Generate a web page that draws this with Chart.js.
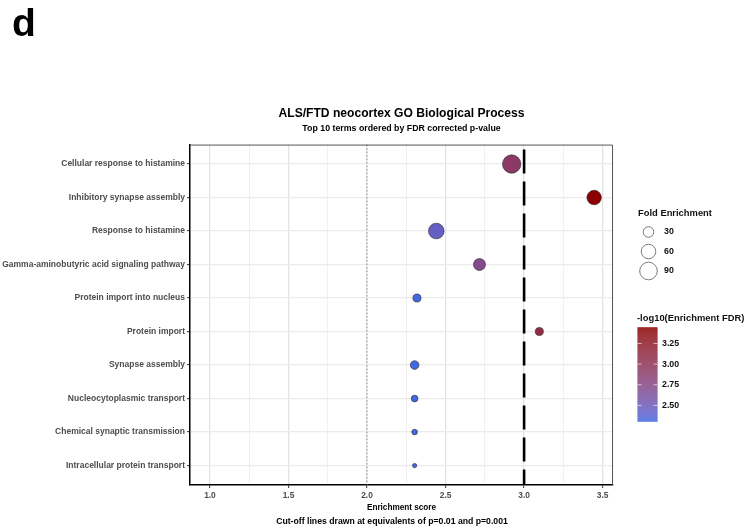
<!DOCTYPE html>
<html>
<head>
<meta charset="utf-8">
<script src="https://cdn.jsdelivr.net/npm/chart.js@4/dist/chart.umd.min.js"></script>
<style>
  body { margin: 0; background: #fff; }
  canvas { display: block; }
</style>
</head>
<body>
<canvas id="goChart" width="748" height="531"></canvas>
<script>
// GO terms, top to bottom
const terms = [
  'Cellular response to histamine',
  'Inhibitory synapse assembly',
  'Response to histamine',
  'Gamma-aminobutyric acid signaling pathway',
  'Protein import into nucleus',
  'Protein import',
  'Synapse assembly',
  'Nucleocytoplasmic transport',
  'Chemical synaptic transmission',
  'Intracellular protein transport'
]
const enrichmentScore = [2.921, 3.446, 2.441, 2.716, 2.318, 3.097, 2.303, 2.303, 2.303, 2.303]
const foldEnrichment = [98, 60, 70, 40, 16, 16, 19, 10, 6, 2]
const log10Fdr = [2.921, 3.446, 2.441, 2.716, 2.318, 3.097, 2.303, 2.303, 2.303, 2.303]

const xTickLabels = ['1.0', '1.5', '2.0', '2.5', '3.0', '3.5']
const cutoffs = [2.0, 3.0]          // p=0.01 and p=0.001
const sizeBreaks = [30, 60, 90]
const colourBreaks = [2.5, 2.75, 3.0, 3.25]

const font = '"Liberation Sans", Arial, Helvetica, sans-serif'

// size scale (area ~ value)
const radius = v => Math.sqrt(3 + 0.83 * v)

// colour scale: royalblue -> darkred, interpolated in Lab like ggplot
const lowColour = [65, 105, 225]
const highColour = [139, 0, 0]
const fdrMin = Math.min(...log10Fdr)
const fdrMax = Math.max(...log10Fdr)

function toLab(rgb) {
  let [r, g, b] = rgb.map(c => {
    c /= 255
    return c <= 0.04045 ? c / 12.92 : Math.pow((c + 0.055) / 1.055, 2.4)
  })
  let x = (r * 0.4124 + g * 0.3576 + b * 0.1805) / 0.95047
  let y = (r * 0.2126 + g * 0.7152 + b * 0.0722)
  let z = (r * 0.0193 + g * 0.1192 + b * 0.9505) / 1.08883
  const f = t => t > 0.008856 ? Math.cbrt(t) : 7.787 * t + 16 / 116
  x = f(x); y = f(y); z = f(z)
  return [116 * y - 16, 500 * (x - y), 200 * (y - z)]
}
function fromLab(lab) {
  let y = (lab[0] + 16) / 116
  let x = lab[1] / 500 + y
  let z = y - lab[2] / 200
  const f = t => t * t * t > 0.008856 ? t * t * t : (t - 16 / 116) / 7.787
  x = f(x) * 0.95047; y = f(y); z = f(z) * 1.08883
  let r = x * 3.2406 + y * -1.5372 + z * -0.4986
  let g = x * -0.9689 + y * 1.8758 + z * 0.0415
  let b = x * 0.0557 + y * -0.2040 + z * 1.0570
  return [r, g, b].map(c => {
    c = c > 0.0031308 ? 1.055 * Math.pow(c, 1 / 2.4) - 0.055 : 12.92 * c
    return Math.round(Math.max(0, Math.min(1, c)) * 255)
  })
}
const lowLab = toLab(lowColour)
const highLab = toLab(highColour)
function colourFor(v) {
  const t = Math.max(0, Math.min(1, (v - fdrMin) / (fdrMax - fdrMin)))
  const c = fromLab(lowLab.map((l, i) => l + (highLab[i] - l) * t))
  return `rgb(${c[0]},${c[1]},${c[2]})`
}

const points = terms.map((t, i) => ({ x: enrichmentScore[i], y: i + 1, r: radius(foldEnrichment[i]) }))
const majorTicks = xTickLabels.map(Number)
const isMajor = v => majorTicks.some(m => Math.abs(m - v) < 1e-6)

// extras: cut-off lines, panel border, legends, caption, panel letter
const extras = {
  id: 'extras',
  beforeDatasetsDraw(chart) {
    const { ctx, chartArea: a, scales: { x } } = chart
    ctx.save()
    // dotted line at p=0.01
    ctx.strokeStyle = '#777'
    ctx.lineWidth = 0.8
    ctx.setLineDash([1.5, 2])
    let px = x.getPixelForValue(cutoffs[0])
    ctx.beginPath(); ctx.moveTo(px, a.top); ctx.lineTo(px, a.bottom); ctx.stroke()
    // long dashed at p=0.001
    ctx.strokeStyle = '#000'
    ctx.lineWidth = 2.6
    ctx.setLineDash([24, 8])
    px = x.getPixelForValue(cutoffs[1])
    ctx.beginPath(); ctx.moveTo(px, a.top + 5); ctx.lineTo(px, a.bottom); ctx.stroke()
    ctx.restore()
  },
  afterDraw(chart) {
    const { ctx, chartArea: a } = chart
    ctx.save()
    // top / right panel border
    ctx.strokeStyle = '#555'
    ctx.lineWidth = 1
    ctx.beginPath()
    ctx.moveTo(a.left, a.top + 0.5); ctx.lineTo(a.right - 0.5, a.top + 0.5); ctx.lineTo(a.right - 0.5, a.bottom)
    ctx.stroke()

    // panel letter
    ctx.fillStyle = '#000'
    ctx.font = `bold 39px ${font}`
    ctx.textBaseline = 'alphabetic'
    ctx.fillText('d', 12, 36)

    // caption
    ctx.font = `bold 8.7px ${font}`
    ctx.textAlign = 'center'
    ctx.textBaseline = 'middle'
    ctx.fillText('Cut-off lines drawn at equivalents of p=0.01 and p=0.001', 392, 522)

    // size legend
    ctx.textAlign = 'left'
    ctx.font = `bold 9.4px ${font}`
    ctx.fillStyle = '#111'
    ctx.fillText('Fold Enrichment', 638, 213)
    const sizeY = [232, 251.5, 271]
    sizeBreaks.forEach((b, i) => {
      ctx.beginPath()
      ctx.arc(648.5, sizeY[i], radius(b), 0, Math.PI * 2)
      ctx.fillStyle = '#fff'
      ctx.fill()
      ctx.strokeStyle = '#444'
      ctx.lineWidth = 0.7
      ctx.stroke()
      ctx.fillStyle = '#111'
      ctx.font = `bold 8.8px ${font}`
      ctx.fillText(String(b), 664, sizeY[i])
    })

    // colour bar
    ctx.font = `bold 9.4px ${font}`
    ctx.fillText('-log10(Enrichment FDR)', 637, 318)
    const barTop = 327.3, barBottom = 421.7, barLeft = 637.5, barW = 20
    const yFor = v => barTop + (fdrMax - v) / (fdrMax - fdrMin) * (barBottom - barTop)
    for (let yy = barTop; yy < barBottom; yy += 1) {
      const v = fdrMax - (yy + 0.5 - barTop) / (barBottom - barTop) * (fdrMax - fdrMin)
      ctx.fillStyle = colourFor(v)
      ctx.fillRect(barLeft, yy, barW, Math.min(1.2, barBottom - yy))
    }
    ctx.strokeStyle = 'rgba(255,255,255,0.8)'
    ctx.lineWidth = 0.8
    ctx.font = `bold 8.8px ${font}`
    colourBreaks.forEach(b => {
      const yy = yFor(b)
      ctx.beginPath()
      ctx.moveTo(barLeft, yy); ctx.lineTo(barLeft + 4, yy)
      ctx.moveTo(barLeft + barW - 4, yy); ctx.lineTo(barLeft + barW, yy)
      ctx.stroke()
      ctx.fillStyle = '#111'
      ctx.fillText(b.toFixed(2), 662, yy)
    })
    ctx.restore()
  }
}

new Chart(document.getElementById('goChart'), {
  type: 'bubble',
  data: {
    datasets: [{
      data: points,
      backgroundColor: log10Fdr.map(colourFor),
      borderColor: 'rgba(40,40,40,0.85)',
      borderWidth: 0.7,
      hoverRadius: 0
    }]
  },
  options: {
    responsive: false,
    animation: false,
    events: [],
    layout: { padding: { top: 0, right: 135, bottom: 18, left: 0 } },
    plugins: {
      legend: { display: false },
      tooltip: { enabled: false },
      title: {
        display: true,
        fullSize: false,
        text: 'ALS/FTD neocortex GO Biological Process',
        color: '#000',
        font: { family: font, size: 12.1, weight: 'bold' },
        padding: { top: 106, bottom: 0 }
      },
      subtitle: {
        display: true,
        fullSize: false,
        text: 'Top 10 terms ordered by FDR corrected p-value',
        color: '#000',
        font: { family: font, size: 8.8, weight: 'bold' },
        padding: { top: 2.5, bottom: 11 }
      }
    },
    scales: {
      x: {
        type: 'linear',
        min: 0.873,
        max: 3.566,
        afterBuildTicks: s => {
          const ticks = []
          for (let i = 0; i < majorTicks.length; i++) {
            ticks.push({ value: majorTicks[i] })
            if (i < majorTicks.length - 1) ticks.push({ value: (majorTicks[i] + majorTicks[i + 1]) / 2 })
          }
          s.ticks = ticks
        },
        afterFit: s => { s.height = 28 },
        ticks: {
          autoSkip: false,
          maxRotation: 0,
          padding: 3,
          color: '#4D4D4D',
          font: { family: font, size: 8.4, weight: 'bold' },
          callback: v => isMajor(v) ? xTickLabels[majorTicks.findIndex(m => Math.abs(m - v) < 1e-6)] : ''
        },
        grid: {
          color: c => isMajor(c.tick.value) ? '#E3E3E3' : '#F0F0F0',
          lineWidth: c => isMajor(c.tick.value) ? 1.3 : 1,
          tickColor: c => isMajor(c.tick.value) ? '#333' : 'rgba(0,0,0,0)',
          tickLength: 3,
          tickWidth: 1
        },
        border: { color: '#000', width: 1.5 },
        title: {
          display: true,
          text: 'Enrichment score',
          color: '#000',
          font: { family: font, size: 8.2, weight: 'bold' },
          padding: { top: 0, bottom: 0 }
        }
      },
      y: {
        type: 'linear',
        reverse: true,
        min: 0.42,
        max: 10.58,
        afterBuildTicks: s => { s.ticks = terms.map((t, i) => ({ value: i + 1 })) },
        afterFit: s => { s.width = 190 },
        ticks: {
          autoSkip: false,
          padding: 2,
          color: '#4D4D4D',
          font: { family: font, size: 8.5, weight: 'bold' },
          callback: v => terms[Math.round(v) - 1]
        },
        grid: {
          color: '#EBEBEB',
          lineWidth: 1.3,
          tickColor: '#333',
          tickLength: 3,
          tickWidth: 1
        },
        border: { color: '#000', width: 1.5 }
      }
    }
  },
  plugins: [extras]
})
</script>
</body>
</html>
